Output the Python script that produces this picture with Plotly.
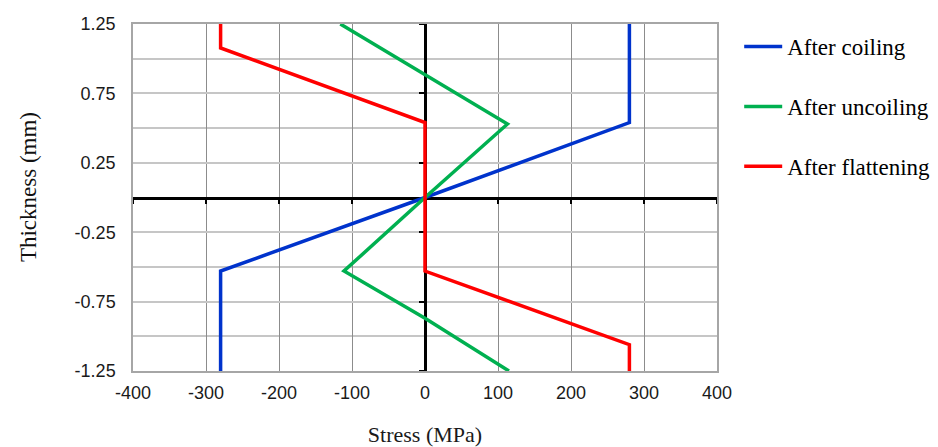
import plotly.graph_objects as go

# ---- data ----
coil_stress = [-280, -280, 0, 280, 280]
coil_thick = [-1.25, -0.53, 0.0, 0.54, 1.25]

uncoil_stress = [115, 0, -111, 0, 113, 0, -116]
uncoil_thick = [-1.25, -0.87, -0.53, 0.0, 0.53, 0.885, 1.25]

flat_stress = [280, 280, 0, 0, -280, -280]
flat_thick = [-1.25, -1.06, -0.53, 0.54, 1.077, 1.25]

series_names = ["After coiling", "After uncoiling", "After flattening"]
series_colors = ["#0033CC", "#00B050", "#FF0000"]

x_ticks = [-400, -300, -200, -100, 0, 100, 200, 300, 400]
x_ticklabels = ["-400", "-300", "-200", "-100", "0", "100", "200", "300", "400"]
y_ticks = [-1.25, -0.75, -0.25, 0.25, 0.75, 1.25]
y_ticklabels = ["-1.25", "-0.75", "-0.25", "0.25", "0.75", "1.25"]
x_range = [-400, 400]
y_range = [-1.25, 1.25]

serif = "Liberation Serif, Times New Roman, serif"
sans = "Liberation Sans, Arial, sans-serif"

fig = go.Figure()
data = [(coil_stress, coil_thick), (uncoil_stress, uncoil_thick), (flat_stress, flat_thick)]
for (xs, ys), name, col in zip(data, series_names, series_colors):
    fig.add_trace(go.Scatter(x=xs, y=ys, mode="lines", name=name,
                             line=dict(color=col, width=3.5),
                             legendgroup=name))

# invisible trace so the crossing axes (x2/y2) are drawn
fig.add_trace(go.Scatter(x=[None], y=[None], xaxis="x2", yaxis="y2",
                         showlegend=False, hoverinfo="skip"))

x_zero_pos = (0 - x_range[0]) / (x_range[1] - x_range[0])
y_zero_pos = (0 - y_range[0]) / (y_range[1] - y_range[0])

fig.update_layout(
    width=938, height=447,
    margin=dict(l=133, r=221, t=24, b=76, autoexpand=False),
    paper_bgcolor="white", plot_bgcolor="white",
    showlegend=True,
    legend=dict(x=1.038, xanchor="left", y=0.997, yanchor="top",
                font=dict(family=serif, size=23, color="black"),
                traceorder="grouped", tracegroupgap=27,
                itemwidth=38,
                bgcolor="rgba(0,0,0,0)"),
    xaxis=dict(range=x_range, tickvals=x_ticks, ticktext=x_ticklabels, showgrid=True,
               gridcolor="#8c8c8c", gridwidth=1.3, zeroline=False,
               showline=True, linecolor="#a6a6a6", linewidth=1.5, mirror=True,
               ticks="", ticklabelstandoff=5, automargin=False,
               tickfont=dict(family=sans, size=18, color="#1a1a1a"),
               title=dict(text="Stress (MPa)", font=dict(family=serif, size=22, color="#1a1a1a"),
                          standoff=25)),
    yaxis=dict(range=y_range, tickvals=y_ticks, ticktext=y_ticklabels, showgrid=True,
               gridcolor="#c6c6c6", gridwidth=1.5, zeroline=False,
               showline=True, linecolor="#a6a6a6", linewidth=1.5, mirror=True,
               ticks="", ticklabelstandoff=12, automargin=False,
               minor=dict(dtick=0.25, tick0=0, showgrid=True, gridcolor="#c6c6c6", gridwidth=1.5),
               tickfont=dict(family=sans, size=18, color="#1a1a1a")),
    xaxis2=dict(range=x_range, overlaying="x", anchor="free", position=y_zero_pos,
                side="bottom", tickvals=x_ticks, showticklabels=False,
                ticks="outside", ticklen=5, tickwidth=2, tickcolor="black",
                showline=True, linecolor="black", linewidth=2.5, automargin=False,
                showgrid=False, zeroline=False, layer="below traces"),
    yaxis2=dict(range=y_range, overlaying="y", anchor="free", position=x_zero_pos,
                side="left", tickvals=y_ticks, showticklabels=False,
                ticks="outside", ticklen=5, tickwidth=2, tickcolor="black",
                showline=True, linecolor="black", linewidth=2.5, automargin=False,
                showgrid=False, zeroline=False, layer="below traces"),
    annotations=[dict(text="Thickness (mm)", textangle=-90, xref="paper", yref="paper",
                      x=0, y=0.53, xanchor="center", yanchor="middle", xshift=-105,
                      showarrow=False,
                      font=dict(family=serif, size=23, color="#111111"))],
)

fig.write_html("out.html")
